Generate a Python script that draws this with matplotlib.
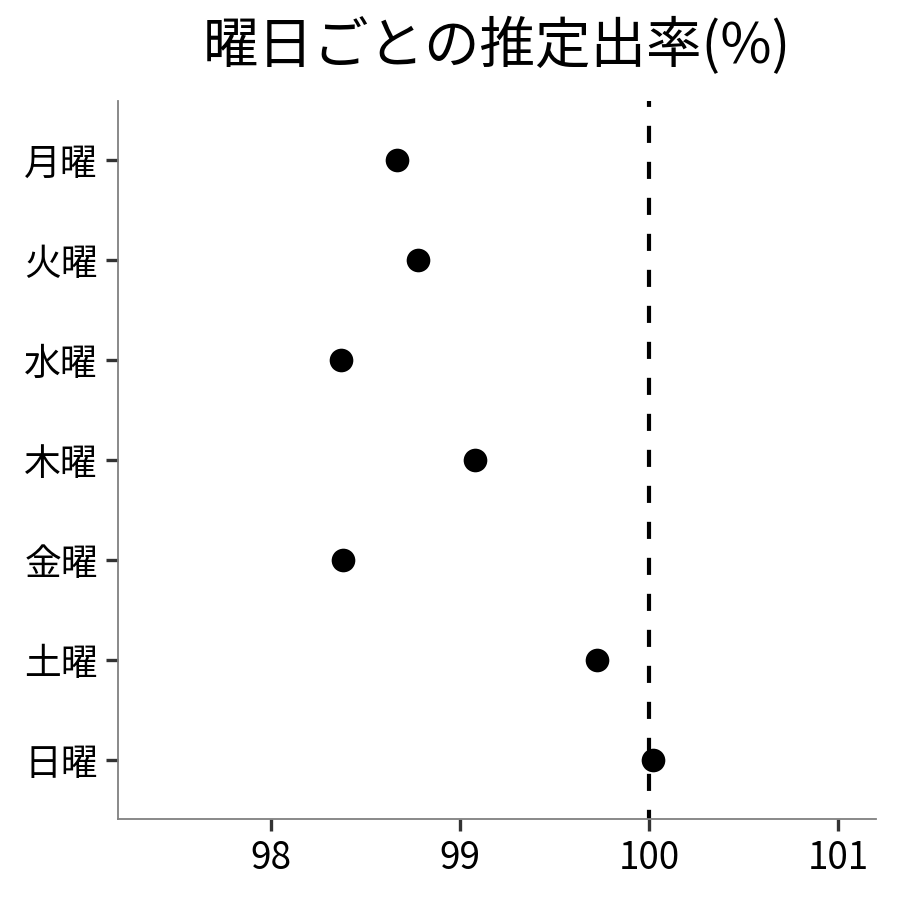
import matplotlib
matplotlib.use('Agg')
import matplotlib.pyplot as plt

plt.rcParams['font.family'] = ['Noto Sans CJK JP', 'DejaVu Sans']

# data
days = ['月曜', '火曜', '水曜', '木曜', '金曜', '土曜', '日曜']
rate = [98.667, 98.778, 98.37, 99.079, 98.38, 99.725, 100.02]
xticks = [98, 99, 100, 101]

fig = plt.figure(figsize=(9, 9), dpi=100)
ax = fig.add_axes([0.131, 0.09, 0.842, 0.798])

ypos = list(range(1, len(days) + 1))
ax.scatter(rate, ypos, s=290, color='black', zorder=3, linewidths=0)
ax.axvline(100, color='black', linestyle=(1.9, (4.1, 4.54)), linewidth=3, zorder=2)

ax.set_xlim(97.19, 101.2)
ax.set_ylim(7.59, 0.41)
ax.set_xticks(xticks)
ax.set_xticklabels([str(v) for v in xticks])
ax.set_yticks(ypos)
ax.set_yticklabels(days)

for s in ['top', 'right']:
    ax.spines[s].set_visible(False)
for s in ['left', 'bottom']:
    ax.spines[s].set_color('#808080')
    ax.spines[s].set_linewidth(1.3)

ax.tick_params(axis='both', length=8.5, width=2.4, color='#333333', labelsize=26.5, pad=6)

ax.set_title('曜日ごとの推定出率(%)', fontsize=40, pad=27)

fig.savefig('out.png', dpi=100)
